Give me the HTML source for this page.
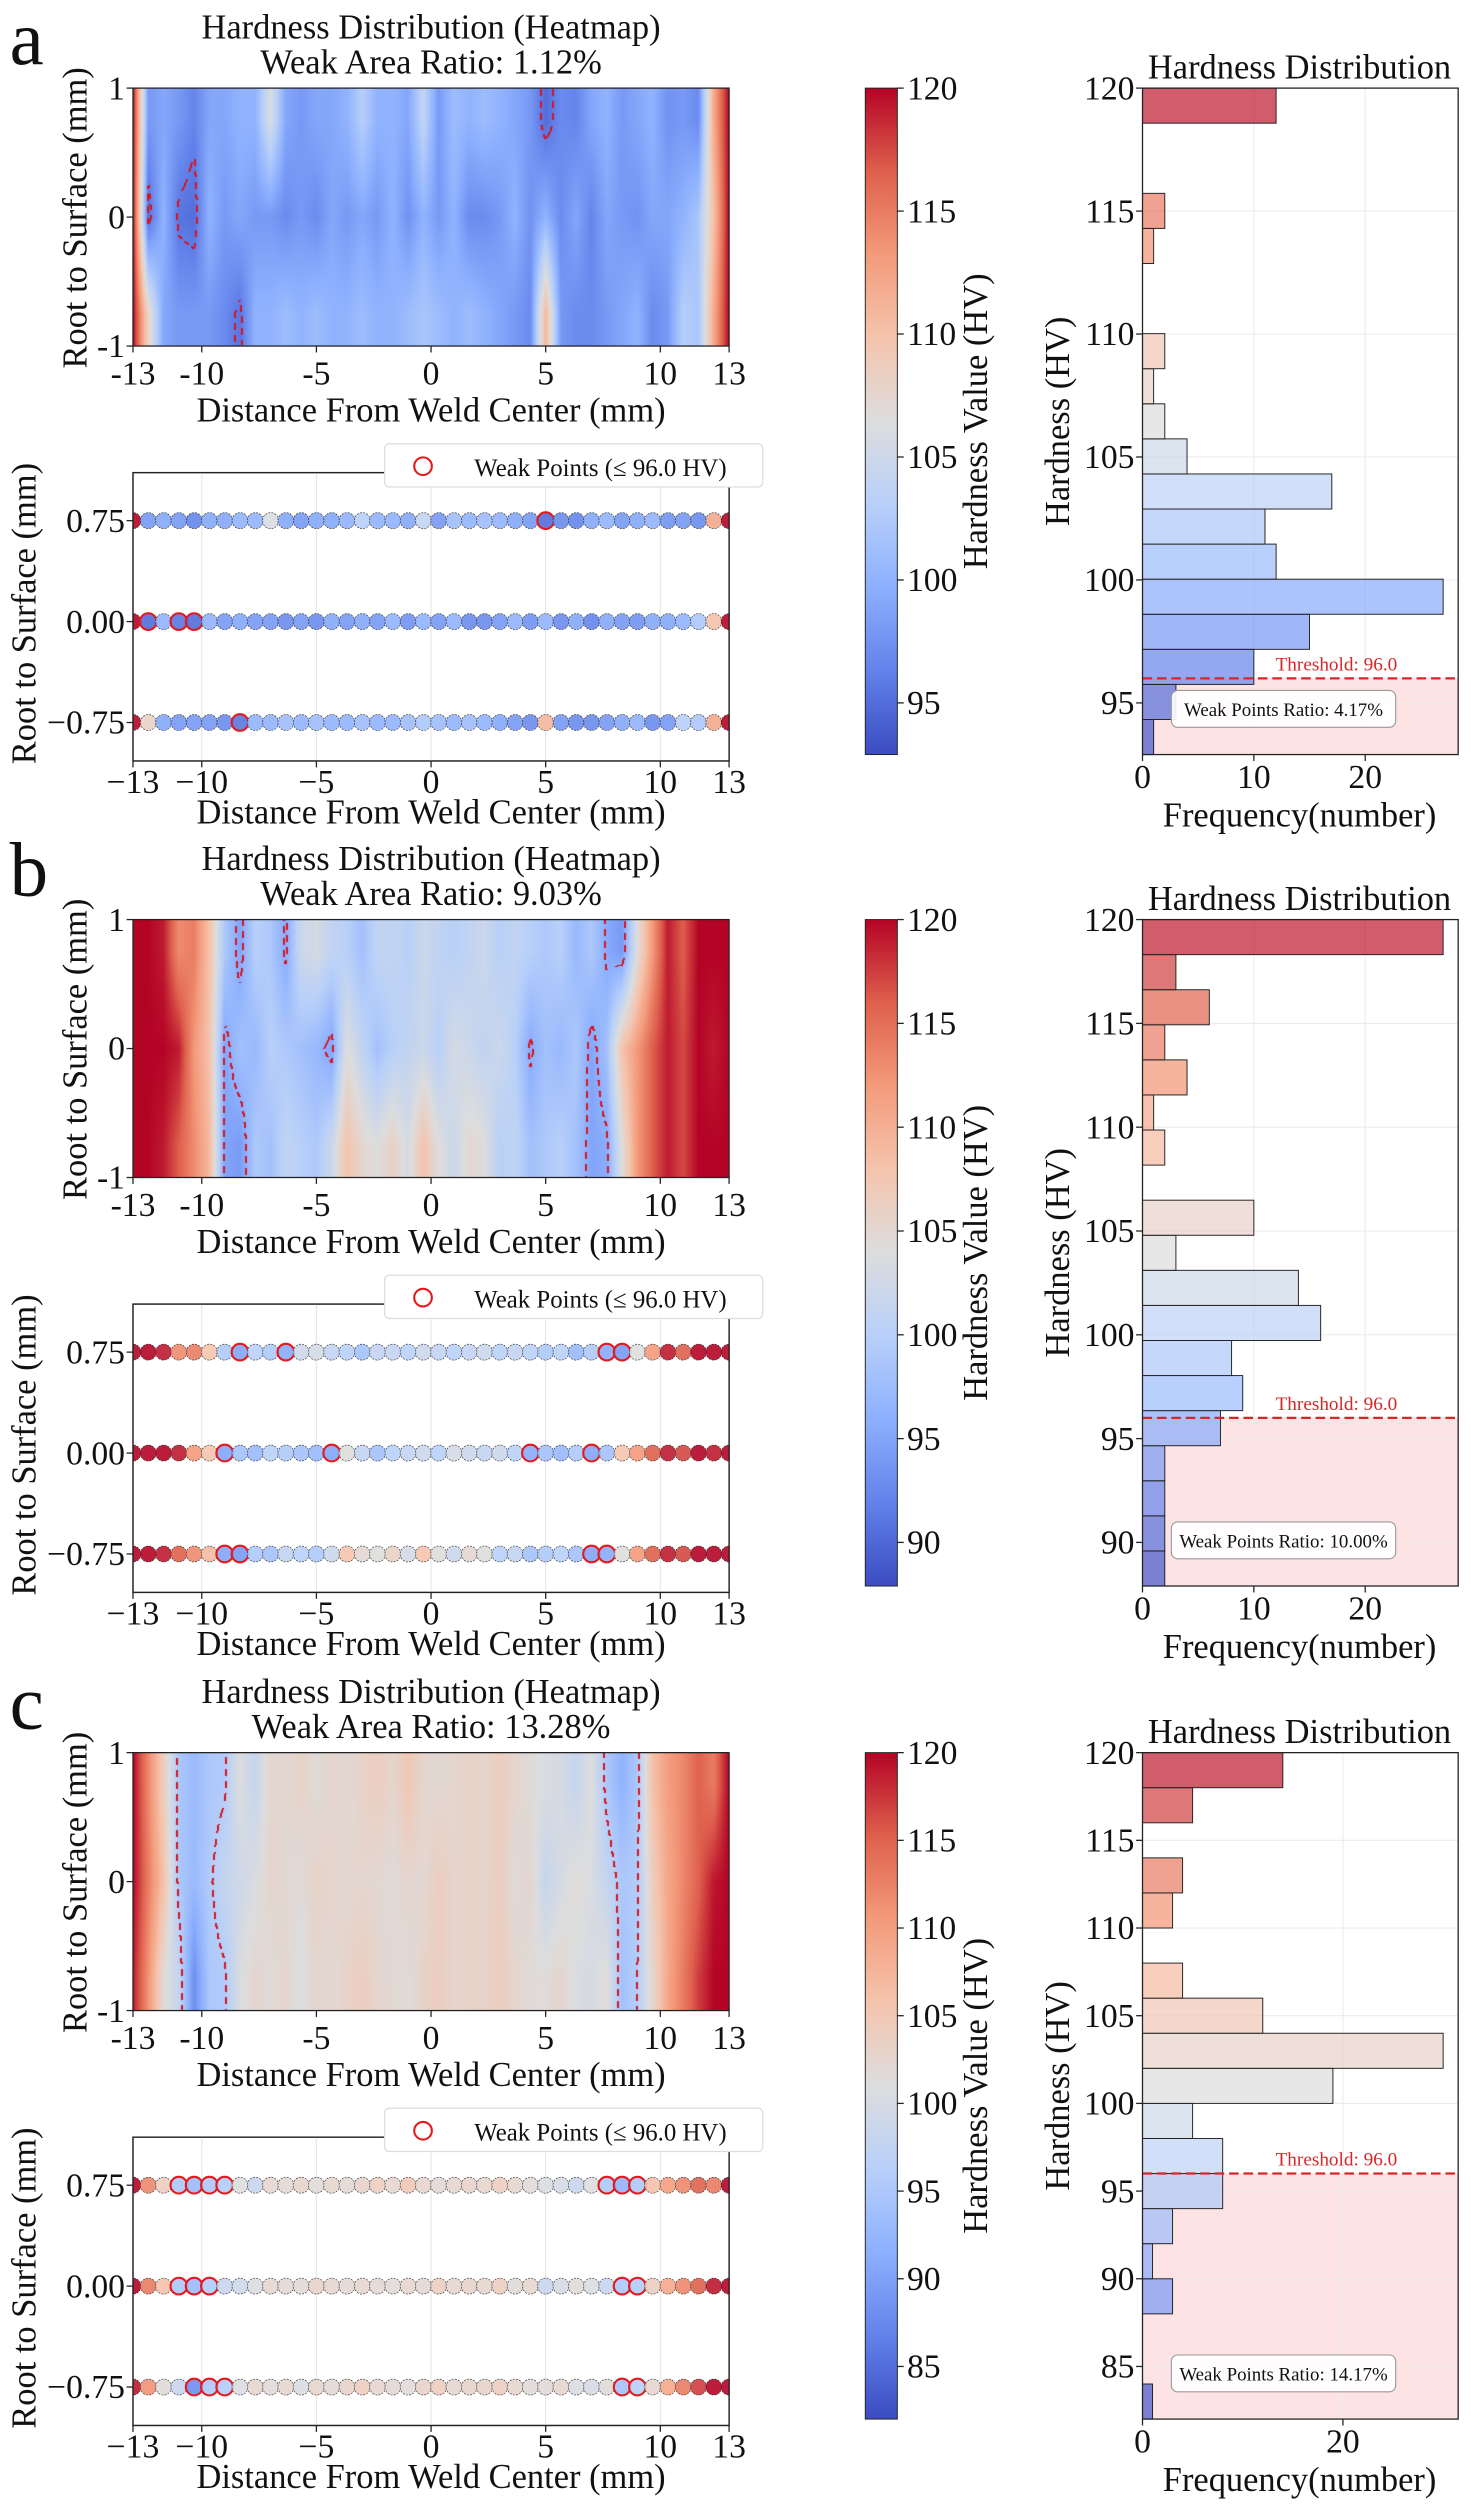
<!DOCTYPE html>
<html><head><meta charset="utf-8">
<style>
html,body{margin:0;padding:0;background:#fff;}
#wrap{position:relative;width:1471px;height:2512px;overflow:hidden;}
#wrap canvas{position:absolute;}
#wrap svg{position:absolute;left:0;top:0;}
text{font-family:"Liberation Serif","DejaVu Serif",serif;fill:#111;}
</style></head>
<body>
<div id="wrap">
<svg id="fig" width="1471" height="2512" viewBox="0 0 918 1568" preserveAspectRatio="none"></svg>
</div>
<script>
// ---------- data ----------
const xTicks = [-13,-10,-5,0,5,10,13];
const rowYs = [0.75, 0.00, -0.75];
const rowLabels = ["0.75","0.00","\u22120.75"];
const threshold = 96.0;

const aRow075 = [120,98,99,98,96.5,99,99,100,100,106,99,98,99,99,100,103,100,100,99,104,98,101,100,101,100,99,98,95,97,96.5,99,100,98,99,100,97.5,98,97,112,120];
const aRow000 = [120,95,100,95.5,95,100,98,99,98,98,97,98,97,99,98,99,98,100,97.5,100,98,100,97,97,98,100,97.5,100,97,99,96.5,99,98,97.5,99,99,100,102,110,120];
const aRowM075 = [120,108,99,98,98,98,97,95.5,100,100,101,100,101,100,100,101,100,100,101,102,101,100,101,100,99,98,97,111,98,97,97,98,99,100,97,98,103,102,112,120];
const aHistCounts = [1,3,10,15,27,12,11,17,4,2,1,2,0,0,1,2,0,0,12];
const aRange = [92.9,120];
const aCbTicks = [95,100,105,110,115,120];
const aHistXTicks = [0,10,20];

const bRow075 = [120,120,119,113,114,108,99,95,100,99,95.5,102,103,101,100,98,101,101,100,102,101,100,101,102,100,101,100,99,100,97,99,95.5,94,104,112,119,116,120,120,120];
const bRow000 = [120,120,120,119,112,108,95,98,97,100,99,98,97,95,104,101,98,100,101,102,100,103,102,101,102,100,95.5,98,97,99,95,98,108,112,116,119,117,120,119,120];
const bRowM075 = [120,120,119,116,113,109,95,94,99,98,101,100,99,102,108,105,104,106,103,108,104,102,105,104,100,101,98,99,100,98,95,95.5,104,112,116,119,117,120,120,120];
const bHistCounts = [2,2,2,2,7,9,8,16,14,3,10,0,2,1,4,2,6,3,27];
const bRange = [87.9,120];
const bCbTicks = [90,95,100,105,110,115,120];
const bHistXTicks = [0,10,20];

const cRow075 = [120,112,104,95,93,95,95.5,101,98,102.5,102,103,101.5,102.5,102,103,104,102.5,105,102.5,102,102.5,103,102.5,104,102.5,101.5,100.5,100,98,101,95,92,95,106,110,112,115,113,120];
const cRow000 = [120,113,106,95,93,95.5,98,99,100.5,102.5,102,101.5,103,102.5,102,102.5,102,101.5,102.5,102,104,102.5,103,102.5,104,101.5,102.5,98,100,101.5,100.5,98,95,95.5,104,109,112,115,119,120];
const cRowM075 = [119,111,101.5,98,88,95,95.5,100.5,102.5,101.5,102.5,100.5,102.5,102,103,104,102.5,102,101.5,103,104,102.5,103,103,104,102.5,101.5,101.5,102.5,100.5,100,101.5,94,96,102.5,109,113,117,120,120];
const cHistCounts = [1,0,0,3,1,3,8,8,5,19,30,12,4,0,3,4,0,5,14];
const cRange = [82,120];
const cCbTicks = [85,90,95,100,105,110,115,120];
const cHistXTicks = [0,20];

const panelLetters = ["a","b","c"];
const weakAreaTexts = ["1.12%","9.03%","13.28%"];
const weakPointTexts = ["4.17%","10.00%","14.17%"];
const histXMax = [28.35,28.35,31.5];

// ---------- helpers ----------
const NS = "http://www.w3.org/2000/svg";
const svg = document.getElementById('fig');
const SX = 1471/918, SY = 2512/1568;
const FT = 21, FL = 21.5;
function mk(tag, attrs, parent){
  const e = document.createElementNS(NS, tag);
  for (const k in attrs) e.setAttribute(k, attrs[k]);
  (parent||svg).appendChild(e);
  return e;
}
function txt(str, x, y, size, anchor, parent, extra){
  const t = mk('text', Object.assign({x:x, y:y, 'font-size':size, 'text-anchor':anchor||'middle'}, extra||{}), parent);
  t.textContent = str;
  return t;
}
const cwStops = [[59,76,192],[98,130,234],[141,176,254],[184,208,249],[221,221,221],[245,196,173],[244,154,123],[222,96,77],[180,4,38]];
function cwRGB(t){
  t = Math.max(0, Math.min(1, t));
  const p = t*8, i = Math.min(7, Math.floor(p)), f = p - i;
  const a = cwStops[i], b = cwStops[i+1];
  return [0,1,2].map(k => Math.round(a[k] + (b[k]-a[k])*f));
}
function cw(t){ const c = cwRGB(t); return 'rgb('+c[0]+','+c[1]+','+c[2]+')'; }
function xPos(v){ return 83 + (v+13)/26*372; }
function ptX(i){ return -13 + i*26/39; }

const panels = [
  {rows:[aRow075,aRow000,aRowM075], hist:aHistCounts, range:aRange, cbt:aCbTicks, hxt:aHistXTicks, off:0},
  {rows:[bRow075,bRow000,bRowM075], hist:bHistCounts, range:bRange, cbt:bCbTicks, hxt:bHistXTicks, off:519},
  {rows:[cRow075,cRow000,cRowM075], hist:cHistCounts, range:cRange, cbt:cCbTicks, hxt:cHistXTicks, off:1039}
];

const defs = mk('defs', {});
const grad = mk('linearGradient', {id:'cwgrad', x1:0, y1:1, x2:0, y2:0}, defs);
cwStops.forEach((c,i)=>{ mk('stop', {offset:(i/8), 'stop-color':'rgb('+c.join(',')+')'}, grad); });

panels.forEach((P, pi) => {
  const o = P.off;
  const vmin = P.range[0], vmax = P.range[1];
  const norm = v => (v - vmin)/(vmax - vmin);
  const g = mk('g', {}, svg);
  
  

  const L = txt(panelLetters[pi], 6, 40+o, 48, 'start', g);
  
  

  // ---- heatmap ----
  const hx0 = 83, hx1 = 455, hy0 = 55+o, hy1 = 216+o;
  const cv = document.createElement('canvas');
  const cw_ = Math.round((hx1-hx0)*SX), ch_ = Math.round((hy1-hy0)*SY);
  cv.width = cw_; cv.height = ch_;
  cv.style.left = (hx0*SX)+'px'; cv.style.top = (hy0*SY)+'px';
  
  
  document.getElementById('wrap').insertBefore(cv, svg);
  const ctx = cv.getContext('2d');
  const img = ctx.createImageData(cw_, ch_);
  const rowsAt = P.rows;
  function rowVal(r, xv){
    const f = (xv + 13)/26*39;
    const i = Math.max(0, Math.min(38, Math.floor(f))), t = Math.max(0, Math.min(1, f - i));
    return r[i] + (r[i+1]-r[i])*t;
  }
  const V = new Float32Array(cw_*ch_);
  for (let px=0; px<cw_; px++){
    const xv = -13 + (px+0.5)/cw_*26;
    const v0 = rowVal(rowsAt[0], xv), v1 = rowVal(rowsAt[1], xv), v2 = rowVal(rowsAt[2], xv);
    for (let py=0; py<ch_; py++){
      const yv = 1 - (py+0.5)/ch_*2;
      let v;
      if (yv >= 0.75) v = v0;
      else if (yv >= 0) v = v1 + (v0-v1)*(yv/0.75);
      else if (yv >= -0.75) v = v1 + (v2-v1)*(-yv/0.75);
      else v = v2;
      V[py*cw_+px] = v;
      const c = cwRGB(norm(v));
      const k = (py*cw_ + px)*4;
      img.data[k]=c[0]; img.data[k+1]=c[1]; img.data[k+2]=c[2]; img.data[k+3]=255;
    }
  }
  // dashed threshold contour
  for (let py=0; py<ch_-1; py++){
    for (let px=0; px<cw_-1; px++){
      const a = V[py*cw_+px] <= threshold;
      const r = V[py*cw_+px+1] <= threshold;
      const d = V[(py+1)*cw_+px] <= threshold;
      if (a !== r || a !== d){
        if (((px + py) % 12) < 7){
          for (let dx=0; dx<2; dx++){
            const k = (py*cw_ + Math.min(cw_-1, px+dx))*4;
            img.data[k]=214; img.data[k+1]=20; img.data[k+2]=30;
          }
        }
      }
    }
  }
  ctx.putImageData(img, 0, 0);
  const hf = mk('rect', {x:hx0, y:hy0, width:hx1-hx0, height:hy1-hy0, fill:'none', stroke:'#222', 'stroke-width':0.8}, g);
  
  
  const t1 = txt('Hardness Distribution (Heatmap)', 269, 24+o, FL, 'middle', g);
  
  
  const t2 = txt('Weak Area Ratio: ' + weakAreaTexts[pi], 269, 46+o, FL, 'middle', g);
  
  
  [[1,'1'],[0,'0'],[-1,'-1']].forEach(([v,s])=>{
    const yy = hy0 + (1-v)/2*(hy1-hy0);
    mk('line', {x1:hx0-4, x2:hx0, y1:yy, y2:yy, stroke:'#222', 'stroke-width':0.8}, g);
    const t = txt(s, hx0-5, yy+7, FT, 'end', g);
    
    
  });
  xTicks.forEach(v=>{
    const xx = xPos(v);
    mk('line', {x1:xx, x2:xx, y1:hy1, y2:hy1+4, stroke:'#222', 'stroke-width':0.8}, g);
    const t = txt(String(v), xx, hy1+24, FT, 'middle', g);
    
    
  });
  const hxl = txt('Distance From Weld Center (mm)', 269, 263+o, FL, 'middle', g);
  
  
  const hyl = txt('Root to Surface (mm)', 0, 0, FL, 'middle', g, {transform:'translate(54,'+(136+o)+') rotate(-90)'});
  
  

  // ---- scatter ----
  const sy0 = 295+o, sy1 = 475+o;
  const syPos = v => o + 388 - v*84;
  const cp = mk('clipPath', {id:'sclip'+pi}, defs);
  mk('rect', {x:83, y:sy0, width:372, height:sy1-sy0}, cp);
  const sf = mk('rect', {x:83, y:sy0, width:372, height:sy1-sy0, fill:'#fff', stroke:'#222', 'stroke-width':0.8}, g);
  
  
  const pts = mk('g', {'clip-path':'url(#sclip'+pi+')'}, g);
  
  
  xTicks.forEach(v=>{
    const xx = xPos(v);
    mk('line', {x1:xx, x2:xx, y1:sy0, y2:sy1, stroke:'#e6e6e6', 'stroke-width':0.7}, pts);
    mk('line', {x1:xx, x2:xx, y1:sy1, y2:sy1+4, stroke:'#222', 'stroke-width':0.8}, g);
    const t = txt(String(v).replace('-', '\u2212'), xx, sy1+20, FT, 'middle', g);
    
    
  });
  rowYs.forEach((rv, ri)=>{
    const yy = syPos(rv);
    mk('line', {x1:79, x2:83, y1:yy, y2:yy, stroke:'#222', 'stroke-width':0.8}, g);
    const t = txt(rowLabels[ri], 78, yy+7, FT, 'end', g);
    
    
    P.rows[ri].forEach((val, i)=>{
      const c = mk('circle', {cx:xPos(ptX(i)), cy:yy, r:5, fill:cw(norm(val)), 'fill-opacity':0.9, stroke:'#333', 'stroke-width':0.4, 'stroke-dasharray':'1.2 0.8'}, pts);
      
      
      if (val <= threshold){
        const w = mk('circle', {cx:xPos(ptX(i)), cy:yy, r:5.2, fill:'none', stroke:'#e31a1c', 'stroke-width':1.3}, pts);
        
        
      }
    });
  });
  mk('rect', {x:83, y:sy0, width:372, height:sy1-sy0, fill:'none', stroke:'#222', 'stroke-width':0.8}, g);
  const sxl = txt('Distance From Weld Center (mm)', 269, sy1+39, FL, 'middle', g);
  
  
  const syl = txt('Root to Surface (mm)', 0, 0, FL, 'middle', g, {transform:'translate(22,'+(383+o)+') rotate(-90)'});
  
  
  const lg = mk('g', {}, g);
  
  
  mk('rect', {x:240, y:277+o, width:236, height:27, rx:3, fill:'#fff', stroke:'#ddd', 'stroke-width':0.8}, lg);
  mk('circle', {cx:264, cy:291+o, r:5.5, fill:'none', stroke:'#e31a1c', 'stroke-width':1.3}, lg);
  txt('Weak Points (\u2264 96.0 HV)', 296, 297+o, 15.5, 'start', lg);

  // ---- colorbar ----
  const cy0 = 55+o, cy1 = 471+o;
  const cb = mk('rect', {x:540, y:cy0, width:20, height:cy1-cy0, fill:'url(#cwgrad)', stroke:'#222', 'stroke-width':0.6}, g);
  
  
  P.cbt.forEach(v=>{
    const yy = cy1 - norm(v)*(cy1-cy0);
    mk('line', {x1:560, x2:564, y1:yy, y2:yy, stroke:'#222', 'stroke-width':0.8}, g);
    const t = txt(String(v), 566, yy+7, FT, 'start', g);
    
    
  });
  const cbl = txt('Hardness Value (HV)', 0, 0, FL, 'middle', g, {transform:'translate(616,'+((cy0+cy1)/2)+') rotate(-90)'});
  
  

  // ---- histogram ----
  const hX0 = 713, hX1 = 910, hY0 = 55+o, hY1 = 471+o;
  const hy = v => hY1 - (v - vmin)/(vmax - vmin)*(hY1-hY0);
  const hxs = v => hX0 + v/histXMax[pi]*(hX1-hX0);
  const shade = mk('rect', {x:hX0, y:hy(threshold), width:hX1-hX0, height:hY1-hy(threshold), fill:'#fde3e3'}, g);
  
  
  P.hxt.forEach(v=>{
    const xx = hxs(v);
    mk('line', {x1:xx, x2:xx, y1:hY0, y2:hY1, stroke:'#ececec', 'stroke-width':0.7}, g);
    mk('line', {x1:xx, x2:xx, y1:hY1, y2:hY1+4, stroke:'#222', 'stroke-width':0.8}, g);
    const t = txt(String(v), xx, hY1+21, FT, 'middle', g);
    
    
  });
  P.cbt.forEach(v=>{
    const yy = hy(v);
    mk('line', {x1:hX0, x2:hX1, y1:yy, y2:yy, stroke:'#ececec', 'stroke-width':0.7}, g);
    mk('line', {x1:hX0-4, x2:hX0, y1:yy, y2:yy, stroke:'#222', 'stroke-width':0.8}, g);
    const t = txt(String(v), hX0-5, yy+7, FT, 'end', g);
    
    
  });
  const nb = P.hist.length, bw = (vmax - vmin)/nb;
  P.hist.forEach((cnt, i)=>{
    if (cnt <= 0) return;
    const lo = vmin + i*bw, hi = lo + bw;
    const b = mk('rect', {x:hX0, y:hy(hi), width:hxs(cnt)-hX0, height:hy(lo)-hy(hi), fill:cw(norm((lo+hi)/2)), 'fill-opacity':0.7, stroke:'#222', 'stroke-width':0.6}, g);
    
    
  });
  const tl = mk('line', {x1:hX0, x2:hX1, y1:hy(threshold), y2:hy(threshold), stroke:'#d62728', 'stroke-width':1.4, 'stroke-dasharray':'6 3'}, g);
  
  
  const tt = txt('Threshold: ' + threshold.toFixed(1), 872, hy(threshold)-5, 12, 'end', g, {style:'fill:#d62728'});
  
  
  const wb = mk('g', {}, g);
  
  
  mk('rect', {x:731, y:hY1-40, width:140, height:23, rx:4, fill:'#fff', 'fill-opacity':0.9, stroke:'#999', 'stroke-width':0.7}, wb);
  txt('Weak Points Ratio: ' + weakPointTexts[pi], 801, hY1-24, 11.8, 'middle', wb);
  mk('rect', {x:hX0, y:hY0, width:hX1-hX0, height:hY1-hY0, fill:'none', stroke:'#222', 'stroke-width':0.8}, g);
  const ht = txt('Hardness Distribution', 811, hY0-6, FL, 'middle', g);
  
  
  const hxl2 = txt('Frequency(number)', 811, hY1+45, FL, 'middle', g);
  
  
  const hyl2 = txt('Hardness (HV)', 0, 0, FL, 'middle', g, {transform:'translate(667,'+((hY0+hY1)/2)+') rotate(-90)'});
  
  
});
</script>
</body></html>
